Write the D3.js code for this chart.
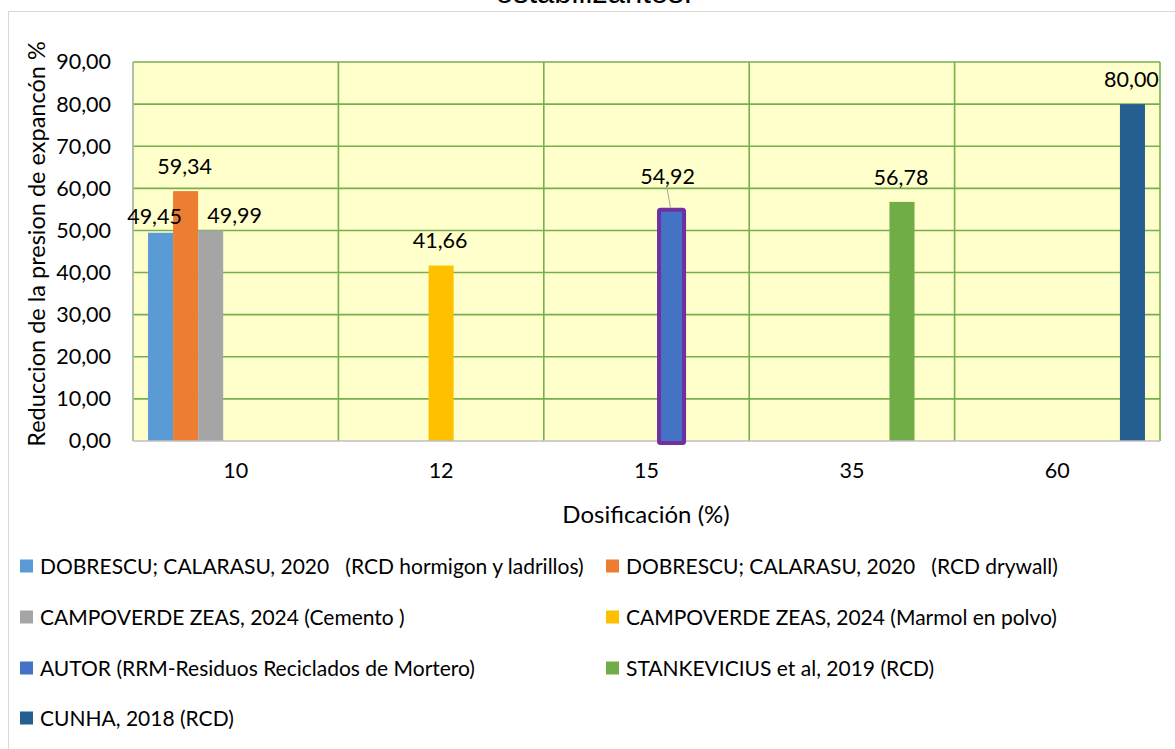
<!DOCTYPE html>
<html lang="es">
<head>
<meta charset="UTF-8">
<script src="https://cdn.jsdelivr.net/npm/d3@7"></script>
<title>Reduccion de la presion de expansion</title>
<style>
    body { margin: 0; background: #fff; }
    svg text { font-family: Lato, 'Noto Sans', sans-serif; fill: #000; white-space: pre; }
    .title { font-family: 'Liberation Sans', Arial, sans-serif; }
</style>
</head>
<body>
<div id="chart"></div>
<script>
    // categories on the x axis (dosificacion %)
    const categories = ["10", "12", "15", "35", "60"];

    // one series per study, each one only has a value for one dosage
    const seriesNames = [
        "DOBRESCU; CALARASU, 2020   (RCD hormigon y ladrillos)",
        "DOBRESCU; CALARASU, 2020   (RCD drywall)",
        "CAMPOVERDE ZEAS, 2024 (Cemento )",
        "CAMPOVERDE ZEAS, 2024 (Marmol en polvo)",
        "AUTOR (RRM-Residuos Reciclados de Mortero)",
        "STANKEVICIUS et al, 2019 (RCD)",
        "CUNHA, 2018 (RCD)"
    ];
    const seriesValues = [
        [49.45, null, null, null, null],
        [59.34, null, null, null, null],
        [49.99, null, null, null, null],
        [null, 41.66, null, null, null],
        [null, null, 54.92, null, null],
        [null, null, null, 56.78, null],
        [null, null, null, null, 80.00]
    ];
    const yTicks = [0, 10, 20, 30, 40, 50, 60, 70, 80, 90];

    const colors = ["#5B9BD5", "#ED7D31", "#A5A5A5", "#FFC000", "#4472C4", "#70AD47", "#255E91"];

    const width = 1175, height = 749;
    const plot = { left: 133, right: 1160, top: 62, bottom: 441 };

    const svg = d3.select("#chart").append("svg")
        .attr("width", width)
        .attr("height", height);

    // chart area border (runs off the picture on the right and bottom)
    svg.append("rect")
        .attr("x", 8.5).attr("y", 11.5)
        .attr("width", 1300).attr("height", 900)
        .attr("fill", "#fff")
        .attr("stroke", "#d9d9d9");

    // title, mostly cut off at the top
    svg.append("text")
        .attr("class", "title")
        .attr("x", 594).attr("y", 3)
        .attr("text-anchor", "middle")
        .style("font-size", "31px")
        .text("estabilizantes.");

    const x = d3.scaleBand()
        .domain(categories)
        .range([plot.left, plot.right]);

    const xInner = d3.scaleBand()
        .domain(d3.range(seriesNames.length))
        .range([0, x.bandwidth()])
        .paddingInner(0)
        .paddingOuter(0.6);

    const y = d3.scaleLinear()
        .domain([0, 90])
        .range([plot.bottom, plot.top]);

    // plot background
    svg.append("rect")
        .attr("x", plot.left).attr("y", plot.top)
        .attr("width", plot.right - plot.left)
        .attr("height", plot.bottom - plot.top)
        .attr("fill", "#FFFFCC");

    // horizontal grid
    svg.append("g")
        .selectAll("line")
        .data(yTicks.filter(d => d > 0))
        .enter().append("line")
        .attr("x1", plot.left).attr("x2", plot.right)
        .attr("y1", d => y(d)).attr("y2", d => y(d))
        .attr("stroke", "#76AF4C")
        .attr("stroke-width", 1.6);

    // vertical grid at category boundaries
    const bounds = categories.map(c => x(c) + x.bandwidth()).concat([x(categories[0])]);
    svg.append("g")
        .selectAll("line")
        .data(bounds)
        .enter().append("line")
        .attr("x1", d => d).attr("x2", d => d)
        .attr("y1", plot.top).attr("y2", plot.bottom)
        .attr("stroke", "#76AF4C")
        .attr("stroke-width", 1.6);

    // axis lines
    svg.append("line")
        .attr("x1", plot.left).attr("x2", plot.left)
        .attr("y1", plot.top).attr("y2", plot.bottom)
        .attr("stroke", "#bfbfbf").attr("stroke-width", 1.5);

    const fmt = d => d3.format(".2f")(d).replace(".", ",");

    // y axis
    const yAxis = d3.axisLeft(y)
        .tickValues(yTicks)
        .tickSize(0)
        .tickPadding(22)
        .tickFormat(fmt);
    const yG = svg.append("g")
        .attr("transform", `translate(${plot.left},0)`)
        .call(yAxis);
    yG.select(".domain").remove();
    yG.selectAll("text")
        .style("font-size", "21.5px")
        .style("font-family", "Lato, sans-serif")
        .attr("fill", "#000");

    // x axis
    const xAxis = d3.axisBottom(x).tickSize(0).tickPadding(22);
    const xG = svg.append("g")
        .attr("transform", `translate(0,${plot.bottom})`)
        .call(xAxis);
    xG.select(".domain").remove();
    xG.selectAll("text")
        .style("font-size", "21.5px")
        .style("font-family", "Lato, sans-serif")
        .attr("fill", "#000");

    // flatten data for bars
    const bars = [];
    seriesValues.forEach((vals, s) => {
        vals.forEach((v, c) => {
            if (v !== null) bars.push({ s: s, cat: categories[c], value: v });
        });
    });

    const barX = d => x(d.cat) + xInner(d.s);

    svg.append("g")
        .selectAll("rect")
        .data(bars.filter(d => d.s !== 4))
        .enter().append("rect")
        .attr("x", d => barX(d))
        .attr("y", d => y(d.value))
        .attr("width", xInner.bandwidth())
        .attr("height", d => y(0) - y(d.value))
        .attr("fill", d => colors[d.s]);

    svg.append("line")
        .attr("x1", plot.left).attr("x2", plot.right)
        .attr("y1", plot.bottom).attr("y2", plot.bottom)
        .attr("stroke", "#bfbfbf").attr("stroke-width", 1.5);

    // the author's bar has a purple outline
    const autor = bars.find(d => d.s === 4);
    svg.append("rect")
        .attr("x", barX(autor))
        .attr("y", y(autor.value))
        .attr("width", xInner.bandwidth())
        .attr("height", y(0) - y(autor.value) + 2)
        .attr("rx", 1.5)
        .attr("fill", colors[4])
        .attr("stroke", "#7030A0")
        .attr("stroke-width", 4);

    // data labels, some were dragged by hand in the original
    const labelShift = { 0: [-6, -17], 2: [24, -15], 4: [-4, -33] };
    const labelPos = d => {
        const sh = labelShift[d.s] || [-1, -25];
        return [barX(d) + xInner.bandwidth() / 2 + sh[0], y(d.value) + sh[1]];
    };

    // leader line for the moved label
    const ap = labelPos(autor);
    svg.append("line")
        .attr("x1", ap[0] - 1).attr("y1", ap[1] + 9)
        .attr("x2", barX(autor) + xInner.bandwidth() / 2 - 1).attr("y2", y(autor.value) - 2)
        .attr("stroke", "#a6a6a6").attr("stroke-width", 1);

    svg.append("g")
        .selectAll("text")
        .data(bars)
        .enter().append("text")
        .attr("x", d => labelPos(d)[0])
        .attr("y", d => labelPos(d)[1])
        .attr("dy", "0.36em")
        .attr("text-anchor", "middle")
        .style("font-size", "21.5px")
        .text(d => fmt(d.value));

    // axis titles
    svg.append("text")
        .attr("x", 646).attr("y", 514)
        .attr("dy", "0.36em")
        .attr("text-anchor", "middle")
        .style("font-size", "24px")
        .text("Dosificación (%)");

    svg.append("text")
        .attr("transform", "translate(37,244) rotate(-90)")
        .attr("dy", "0.36em")
        .attr("text-anchor", "middle")
        .style("font-size", "23.5px")
        .text("Reduccion de la presion de expancón %");

    // legend, two columns
    const legendCols = [20, 606];
    const legendRows = [566, 617, 668, 718];
    const legend = svg.append("g")
        .selectAll("g")
        .data(seriesNames)
        .enter().append("g")
        .attr("transform", (d, i) => `translate(${legendCols[i % 2]},${legendRows[Math.floor(i / 2)]})`);
    legend.append("rect")
        .attr("x", 0).attr("y", -6.5)
        .attr("width", 13).attr("height", 13)
        .attr("fill", (d, i) => colors[i]);
    legend.append("text")
        .attr("x", 20)
        .attr("dy", "0.36em")
        .attr("xml:space", "preserve")
        .style("font-size", "21px")
        .text(d => d);
</script>
</body>
</html>
